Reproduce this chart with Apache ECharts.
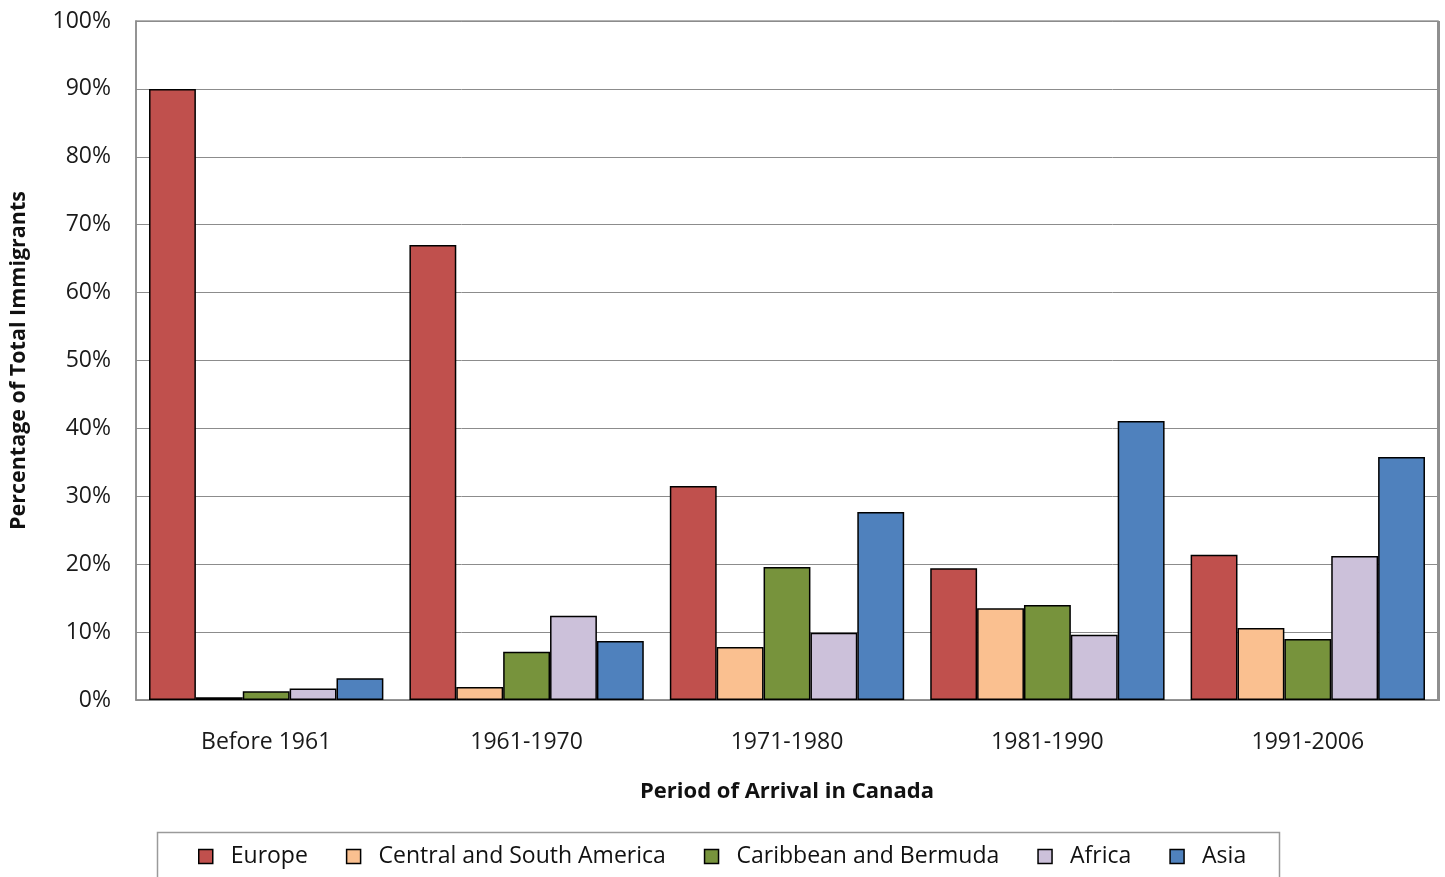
<!DOCTYPE html>
<html>
<head>
<meta charset="utf-8">
<title>Period of Arrival in Canada</title>
<script src="https://cdn.jsdelivr.net/npm/echarts@6/dist/echarts.min.js"></script>
<style>
  html, body { margin: 0; padding: 0; background: #fff; }
  #chart { width: 1445px; height: 877px; }
</style>
</head>
<body>
<div id="chart"></div>
<script>
// Periods of arrival (x categories)
const periods = ['Before 1961', '1961-1970', '1971-1980', '1981-1990', '1991-2006'];

// Share of total immigrants by region of birth, in percent
const europe = [90.0, 67.0, 31.5, 19.4, 21.4];
const centralSouthAmerica = [0.4, 1.9, 7.8, 13.5, 10.6];
const caribbeanBermuda = [1.3, 7.1, 19.6, 14.0, 9.0];
const africa = [1.7, 12.4, 9.9, 9.6, 21.2];
const asia = [3.2, 8.7, 27.7, 41.1, 35.8];

// Y axis ticks
const yTicks = { min: 0, max: 100, step: 10 };

const FONT = '"Open Sans", "Liberation Sans", sans-serif';

const seriesDefs = [
  { name: 'Europe', data: europe, color: '#C0504D' },
  { name: 'Central and South America', data: centralSouthAmerica, color: '#FAC090' },
  { name: 'Caribbean and Bermuda', data: caribbeanBermuda, color: '#77933C' },
  { name: 'Africa', data: africa, color: '#CCC1DA' },
  { name: 'Asia', data: asia, color: '#4F81BD' }
];

const chart = echarts.init(document.getElementById('chart'), null, { renderer: 'canvas' });

chart.setOption({
  backgroundColor: '#ffffff',
  animation: false,
  textStyle: { fontFamily: FONT },
  grid: {
    left: 135, right: 7, top: 21, bottom: 177,
    show: true, borderColor: '#9a9a9a', borderWidth: 1.5,
    containLabel: false
  },
  legend: {
    left: 193, top: 840,
    icon: 'rect', itemWidth: 14, itemHeight: 14, itemGap: 38,
    itemStyle: { borderColor: '#000', borderWidth: 1.5 },
    textStyle: { fontFamily: FONT, fontSize: 23, color: '#111', padding: [0, 0, 0, 13] },
    data: seriesDefs.map(s => s.name)
  },
  graphic: [
    {
      // legend frame, running past the bottom edge
      type: 'rect', silent: true, z: -1,
      shape: { x: 157.5, y: 832.5, width: 1122, height: 60 },
      style: { fill: '#fff', stroke: '#9a9a9a', lineWidth: 1.5 }
    },
    {
      // heavier right edge of the plot frame
      type: 'line', silent: true, z: 5,
      shape: { x1: 1438.5, y1: 21, x2: 1438.5, y2: 701 },
      style: { stroke: '#8f8f8f', lineWidth: 3 }
    }
  ],
  xAxis: {
    type: 'category',
    data: periods,
    axisLine: { show: true, lineStyle: { color: '#8a8a8a', width: 1.5 } },
    axisTick: { show: false },
    axisLabel: { fontFamily: FONT, fontSize: 23, color: '#1a1a1a', margin: 31 },
    name: 'Period of Arrival in Canada',
    nameLocation: 'middle',
    nameGap: 81,
    nameTextStyle: { fontFamily: FONT, fontSize: 22, fontWeight: 'bold', color: '#111' }
  },
  yAxis: {
    type: 'value',
    min: yTicks.min, max: yTicks.max, interval: yTicks.step,
    axisLine: { show: true, lineStyle: { color: '#8a8a8a', width: 1.5 } },
    axisTick: { show: false },
    splitLine: { show: true, lineStyle: { color: '#8c8c8c', width: 1 } },
    axisLabel: { fontFamily: FONT, fontSize: 23, color: '#1a1a1a', margin: 25, formatter: '{value}%' },
    name: 'Percentage of Total Immigrants',
    nameLocation: 'middle',
    nameGap: 106,
    nameTextStyle: { fontFamily: FONT, fontSize: 21.5, fontWeight: 'bold', color: '#111' }
  },
  series: seriesDefs.map(s => ({
    name: s.name,
    type: 'bar',
    data: s.data,
    barGap: '0%',
    barCategoryGap: '10%',
    itemStyle: { color: s.color, borderColor: '#000', borderWidth: 1.5 }
  }))
});
</script>
</body>
</html>
